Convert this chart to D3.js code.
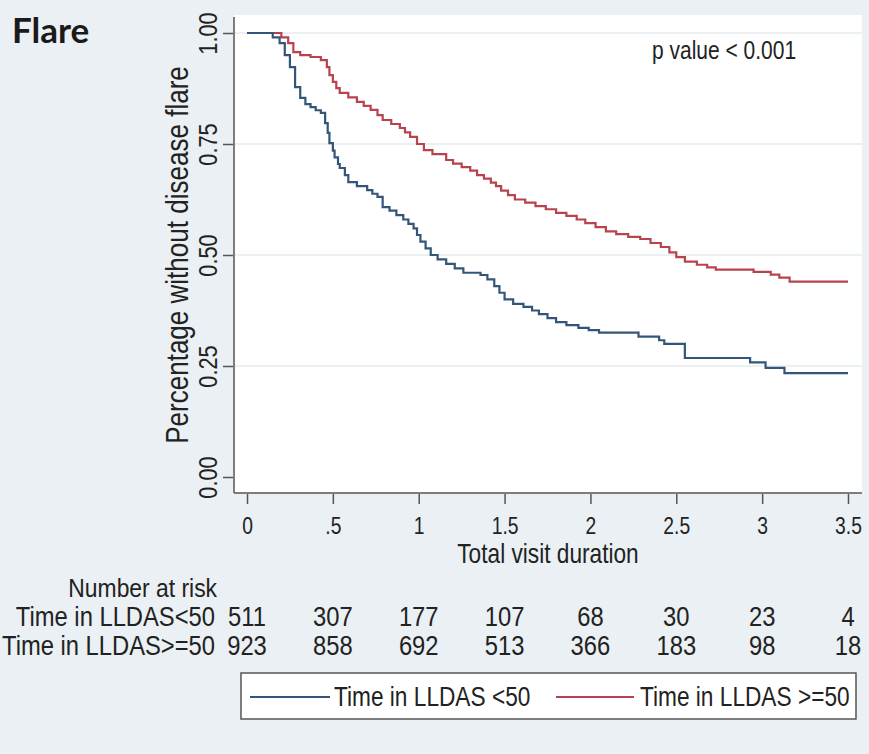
<!DOCTYPE html>
<html>
<head>
<meta charset="utf-8">
<script src="https://cdn.jsdelivr.net/npm/d3@7"></script>
<style>
	body { margin: 0; background: #eaf0f3; }
	svg { display: block; }
	.stata { font-family: "Liberation Sans", Arial, sans-serif; fill: #222; }
</style>
</head>
<body>
<div id="chart"></div>
<script>
// x ticks + number at risk columns
const tickTimes = [0, 0.5, 1, 1.5, 2, 2.5, 3, 3.5];
const tickLabels = ["0", ".5", "1", "1.5", "2", "2.5", "3", "3.5"];
const yTicks = [0, 0.25, 0.5, 0.75, 1];
const yTickLabels = ["0.00", "0.25", "0.50", "0.75", "1.00"];

const groupNames = ["Time in LLDAS<50", "Time in LLDAS>=50"];
const legendNames = ["Time in LLDAS <50", "Time in LLDAS >=50"];
const riskLow = [511, 307, 177, 107, 68, 30, 23, 4];
const riskHigh = [923, 858, 692, 513, 366, 183, 98, 18];

// KM steps, LLDAS<50
const lowTime = [0, 0.15, 0.19, 0.22, 0.25, 0.28, 0.31, 0.34, 0.37, 0.40, 0.43, 0.455, 0.47, 0.48, 0.50, 0.51, 0.53, 0.54, 0.57, 0.59, 0.64, 0.70, 0.73, 0.76, 0.79, 0.83, 0.87, 0.91, 0.94, 0.97, 0.99, 1.01, 1.04, 1.07, 1.11, 1.16, 1.21, 1.26, 1.36, 1.40, 1.44, 1.47, 1.50, 1.55, 1.61, 1.66, 1.70, 1.75, 1.80, 1.86, 1.93, 1.99, 2.05, 2.28, 2.40, 2.43, 2.55, 2.93, 3.02, 3.13, 3.5];
const lowSurv = [1, 0.99, 0.977, 0.95, 0.923, 0.878, 0.854, 0.84, 0.833, 0.826, 0.82, 0.797, 0.775, 0.752, 0.735, 0.72, 0.705, 0.696, 0.68, 0.664, 0.655, 0.646, 0.638, 0.631, 0.608, 0.60, 0.59, 0.58, 0.57, 0.56, 0.545, 0.53, 0.515, 0.50, 0.49, 0.48, 0.47, 0.46, 0.455, 0.445, 0.43, 0.415, 0.40, 0.39, 0.383, 0.375, 0.367, 0.358, 0.349, 0.342, 0.336, 0.331, 0.325, 0.316, 0.308, 0.30, 0.268, 0.258, 0.246, 0.234, 0.234];

// LLDAS>=50
const highTime = [0, 0.2, 0.24, 0.27, 0.31, 0.37, 0.43, 0.465, 0.48, 0.50, 0.52, 0.54, 0.59, 0.64, 0.68, 0.72, 0.76, 0.79, 0.84, 0.89, 0.92, 0.95, 0.99, 1.03, 1.08, 1.16, 1.20, 1.25, 1.30, 1.34, 1.38, 1.42, 1.45, 1.48, 1.52, 1.56, 1.62, 1.68, 1.74, 1.80, 1.86, 1.92, 1.97, 2.03, 2.09, 2.15, 2.22, 2.29, 2.35, 2.41, 2.46, 2.50, 2.55, 2.62, 2.68, 2.73, 2.95, 3.05, 3.10, 3.16, 3.5];
const highSurv = [1, 0.99, 0.977, 0.957, 0.95, 0.946, 0.939, 0.923, 0.905, 0.89, 0.876, 0.865, 0.855, 0.845, 0.836, 0.827, 0.815, 0.804, 0.795, 0.786, 0.776, 0.766, 0.75, 0.736, 0.727, 0.714, 0.706, 0.698, 0.69, 0.68, 0.672, 0.663, 0.655, 0.645, 0.635, 0.625, 0.618, 0.61, 0.603, 0.595, 0.588, 0.58, 0.572, 0.563, 0.553, 0.547, 0.541, 0.536, 0.527, 0.518, 0.506, 0.495, 0.485, 0.478, 0.472, 0.467, 0.462, 0.456, 0.449, 0.44, 0.44];

const colors = ["#34557a", "#b8434f"];
const squeeze = 0.84; // stata font is narrow

class FlareChart {
	constructor() {
		this.width = 869;
		this.height = 754;
		this.svg = d3.select("#chart").append("svg")
			.attr("width", this.width)
			.attr("height", this.height);
		// plot region
		this.box = { left: 234, right: 862, top: 15, bottom: 493 };
		this.x = d3.scaleLinear().domain([0, 3.5]).range([247, 848]);
		this.y = d3.scaleLinear().domain([0, 1]).range([477, 33]);
		this.init();
	}

	text(g, x, y, str, size, anchor, rot, sq) {
		return g.append("text")
			.attr("class", "stata")
			.attr("transform", "translate(" + x + "," + y + ")" + (rot ? " rotate(" + rot + ")" : "") + " scale(" + (sq || squeeze) + ",1)")
			.attr("text-anchor", anchor || "start")
			.style("font-size", size + "px")
			.text(str);
	}

	drawFrame() {
		const b = this.box, self = this;
		this.svg.append("rect")
			.attr("x", b.left).attr("y", b.top)
			.attr("width", b.right - b.left).attr("height", b.bottom - b.top)
			.attr("fill", "#fff");

		this.svg.selectAll(".grid").data(yTicks.filter(d => d > 0))
			.enter().append("line")
			.attr("class", "grid")
			.attr("x1", b.left).attr("x2", b.right)
			.attr("y1", d => self.y(d)).attr("y2", d => self.y(d))
			.attr("stroke", "#e4ebee").attr("stroke-width", 1.5);

		this.svg.append("text")
			.attr("x", 12).attr("y", 43)
			.style("font-family", "Lato, 'Open Sans', sans-serif")
			.style("font-weight", 700)
			.style("font-size", "35px")
			.attr("fill", "#1a1a1a")
			.text("Flare");
	}

	drawAxes() {
		const b = this.box, self = this;

		const xAxis = d3.axisBottom(this.x)
			.tickValues(tickTimes)
			.tickFormat((d, i) => tickLabels[i])
			.tickSize(10).tickSizeOuter(0);
		const gx = this.svg.append("g")
			.attr("transform", "translate(0," + (b.bottom + 1) + ")")
			.call(xAxis);
		gx.select(".domain").remove();
		gx.selectAll(".tick line").attr("stroke", "#555").attr("stroke-width", 1.5);
		gx.selectAll(".tick text")
			.attr("class", "stata")
			.attr("y", 0).attr("dy", 0)
			.attr("transform", "translate(0,40) scale(" + squeeze + ",1)")
			.style("font-size", "23px");

		const yAxis = d3.axisLeft(this.y)
			.tickValues(yTicks)
			.tickFormat((d, i) => yTickLabels[i])
			.tickSize(10).tickSizeOuter(0);
		const gy = this.svg.append("g")
			.attr("transform", "translate(" + (b.left - 1) + ",0)")
			.call(yAxis);
		gy.select(".domain").remove();
		gy.selectAll(".tick line").attr("stroke", "#555").attr("stroke-width", 1.5);
		gy.selectAll(".tick text")
			.attr("class", "stata")
			.attr("x", 0).attr("y", 0).attr("dy", 0)
			.attr("text-anchor", "middle")
			.attr("transform", "translate(-16,0) rotate(-90) scale(" + squeeze + ",1)")
			.style("font-size", "26px");

		// axis lines
		this.svg.append("line")
			.attr("x1", b.left).attr("x2", b.left)
			.attr("y1", b.top + 2).attr("y2", b.bottom)
			.attr("stroke", "#555").attr("stroke-width", 1.5);
		this.svg.append("line")
			.attr("x1", b.left).attr("x2", b.right)
			.attr("y1", b.bottom).attr("y2", b.bottom)
			.attr("stroke", "#555").attr("stroke-width", 1.5);

		this.text(this.svg, 548, 563, "Total visit duration", 27, "middle");
		this.text(this.svg, 188, 255, "Percentage without disease flare", 31, "middle", -90);
		this.text(this.svg, 652, 59, "p value < 0.001", 25, "start");
	}

	drawCurves() {
		const self = this;
		const line = d3.line()
			.x(d => self.x(d[0]))
			.y(d => self.y(d[1]))
			.curve(d3.curveStepAfter);
		const series = [
			d3.zip(lowTime, lowSurv),
			d3.zip(highTime, highSurv)
		];
		// red drawn first, blue on top
		[1, 0].forEach(function(i) {
			self.svg.append("path")
				.datum(series[i])
				.attr("d", line)
				.attr("fill", "none")
				.attr("stroke", colors[i])
				.attr("stroke-width", 2.2);
		});
	}

	drawRiskTable() {
		const self = this,
					labelRight = 215,
					rows = [riskLow, riskHigh],
					rowY = [626, 655],
					sq = 0.88;
		this.text(this.svg, 217, 597, "Number at risk", 26, "end", 0, sq);
		rows.forEach(function(vals, r) {
			self.text(self.svg, labelRight, rowY[r], groupNames[r], 27, "end", 0, sq);
			vals.forEach(function(v, i) {
				self.text(self.svg, self.x(tickTimes[i]), rowY[r], String(v), 27, "middle", 0, sq);
			});
		});
	}

	drawLegend() {
		const self = this,
					g = this.svg.append("g");
		g.append("rect")
			.attr("x", 241).attr("y", 673)
			.attr("width", 615).attr("height", 46)
			.attr("fill", "#fff")
			.attr("stroke", "#555").attr("stroke-width", 1.5);
		const items = [
			{ x1: 250, x2: 330, tx: 334 },
			{ x1: 556, x2: 634, tx: 640 }
		];
		items.forEach(function(it, i) {
			g.append("line")
				.attr("x1", it.x1).attr("x2", it.x2)
				.attr("y1", 697).attr("y2", 697)
				.attr("stroke", colors[i]).attr("stroke-width", 2.2);
			self.text(g, it.tx, 706, legendNames[i], 27, "start");
		});
	}

	init() {
		this.drawFrame();
		this.drawAxes();
		this.drawCurves();
		this.drawRiskTable();
		this.drawLegend();
	}
}

window.onload = function() {
	const chart = new FlareChart();
}
</script>
</body>
</html>
